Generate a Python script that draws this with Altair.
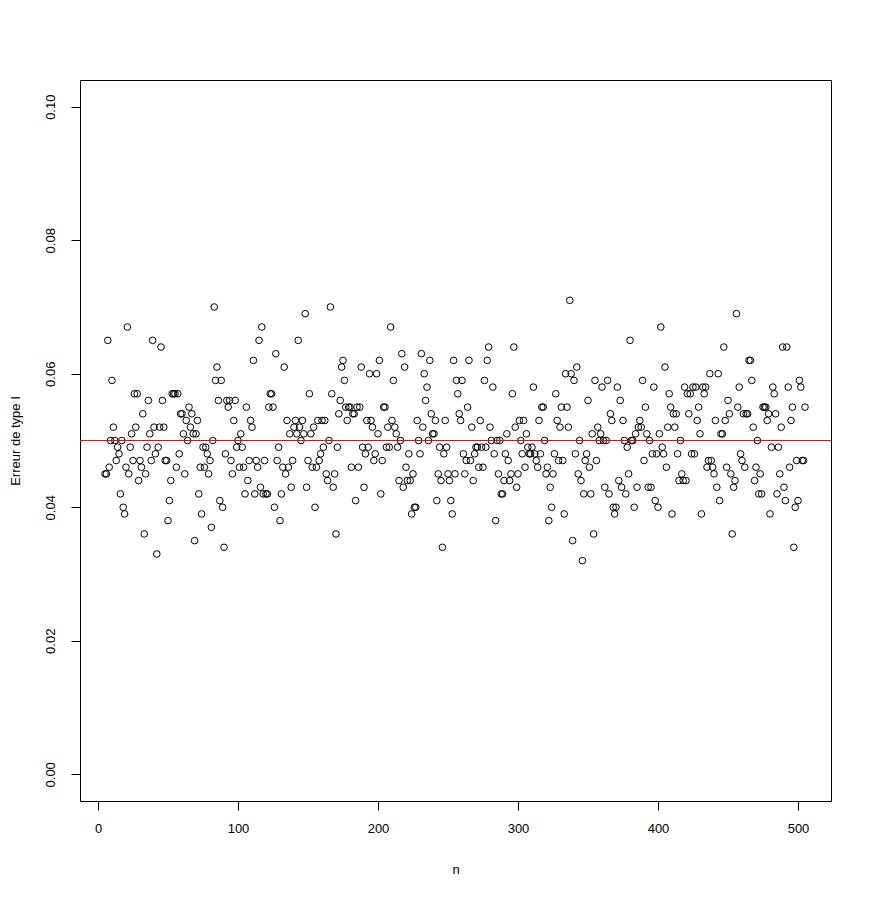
import altair as alt
import pandas as pd

# Simulated type I error, one value per n, n = 5 .. 505
n_start = 5
errors = [
    0.045, 0.045, 0.065, 0.046, 0.050, 0.059, 0.052, 0.050, 0.047, 0.049, 0.048, 0.042, 0.050, 0.040, 0.039, 0.046,
    0.067, 0.045, 0.049, 0.051, 0.047, 0.057, 0.052, 0.057, 0.044, 0.047, 0.046, 0.054, 0.036, 0.045, 0.049, 0.056,
    0.051, 0.047, 0.065, 0.052, 0.048, 0.033,
    0.049, 0.052, 0.064, 0.056, 0.052, 0.047, 0.047, 0.038, 0.041, 0.044, 0.057, 0.057, 0.057, 0.046, 0.057, 0.048,
    0.054, 0.054, 0.051, 0.045, 0.053, 0.050, 0.055, 0.052, 0.054, 0.051, 0.035, 0.051, 0.053, 0.042, 0.046, 0.039,
    0.049, 0.046, 0.049, 0.048, 0.045, 0.047, 0.037, 0.050, 0.070, 0.059, 0.061,
    0.056, 0.041, 0.059, 0.040, 0.034, 0.048, 0.056, 0.055, 0.056, 0.047, 0.045, 0.053, 0.056, 0.049, 0.050, 0.046,
    0.051, 0.049, 0.046, 0.042, 0.055, 0.044, 0.047, 0.053, 0.052, 0.062, 0.042, 0.047, 0.046, 0.065, 0.043, 0.067,
    0.042, 0.047, 0.042, 0.042, 0.055, 0.057, 0.057, 0.055,
    0.040, 0.063, 0.047, 0.049, 0.038, 0.042, 0.046, 0.061, 0.045, 0.053, 0.046, 0.051, 0.043, 0.047, 0.052, 0.053,
    0.051, 0.065, 0.052, 0.050, 0.053, 0.051, 0.069, 0.043, 0.047, 0.057, 0.051, 0.046, 0.052, 0.040, 0.046, 0.053,
    0.047, 0.048, 0.053, 0.049, 0.053, 0.045, 0.044, 0.050, 0.070, 0.057, 0.043,
    0.045, 0.036, 0.049, 0.054, 0.056, 0.061, 0.062, 0.059, 0.055, 0.053, 0.055, 0.055, 0.046, 0.054, 0.054, 0.041,
    0.055, 0.046, 0.055, 0.061, 0.049, 0.043, 0.048, 0.053, 0.049, 0.060, 0.053, 0.052, 0.047, 0.048, 0.060, 0.051,
    0.062, 0.042, 0.047, 0.055, 0.055, 0.049, 0.052,
    0.049, 0.067, 0.053, 0.059, 0.052, 0.051, 0.049, 0.044, 0.050, 0.063, 0.043, 0.061, 0.046, 0.044, 0.048, 0.044,
    0.039, 0.045, 0.040, 0.040, 0.053, 0.050, 0.048, 0.063, 0.052, 0.060, 0.056, 0.058, 0.050, 0.062, 0.054, 0.051,
    0.051, 0.053, 0.041, 0.045, 0.049, 0.044, 0.034, 0.048, 0.053, 0.049, 0.045, 0.044, 0.041,
    0.039, 0.062, 0.045, 0.059, 0.057, 0.054, 0.053, 0.059, 0.048, 0.045, 0.047, 0.055, 0.062, 0.047, 0.052, 0.044,
    0.048, 0.049, 0.049, 0.046, 0.053, 0.049, 0.046, 0.059, 0.049, 0.062, 0.064, 0.052, 0.050, 0.058, 0.048, 0.038,
    0.050, 0.045, 0.050, 0.042, 0.042, 0.044, 0.048, 0.051, 0.047,
    0.044, 0.045, 0.057, 0.064, 0.052, 0.043, 0.045, 0.053, 0.050, 0.048, 0.053, 0.046, 0.051, 0.049, 0.048, 0.048,
    0.049, 0.058, 0.048, 0.047, 0.046, 0.053, 0.048, 0.055, 0.055, 0.050, 0.045, 0.046, 0.038, 0.043, 0.040, 0.045,
    0.048, 0.057, 0.053, 0.047, 0.052, 0.055, 0.047, 0.039, 0.060,
    0.055, 0.052, 0.071, 0.060, 0.035, 0.059, 0.048, 0.061, 0.045, 0.050, 0.044, 0.032, 0.042, 0.047, 0.048, 0.056,
    0.046, 0.042, 0.051, 0.036, 0.059, 0.047, 0.052, 0.050, 0.051, 0.058, 0.050, 0.043, 0.050, 0.059, 0.042, 0.054,
    0.053, 0.040, 0.039, 0.040, 0.058, 0.044, 0.056, 0.043, 0.053, 0.050,
    0.042, 0.049, 0.045, 0.065, 0.050, 0.050, 0.040, 0.051, 0.043, 0.052, 0.053, 0.052, 0.059, 0.047, 0.055, 0.051,
    0.043, 0.050, 0.043, 0.048, 0.058, 0.041, 0.048, 0.040, 0.051, 0.067, 0.049, 0.048, 0.061, 0.046, 0.052, 0.057,
    0.055, 0.039, 0.054, 0.052, 0.054, 0.048, 0.044, 0.050, 0.045,
    0.044, 0.058, 0.044, 0.057, 0.054, 0.057, 0.048, 0.058, 0.048, 0.058, 0.053, 0.055, 0.051, 0.039, 0.058, 0.057,
    0.058, 0.046, 0.047, 0.060, 0.047, 0.046, 0.045, 0.053, 0.043, 0.060, 0.041, 0.051, 0.051, 0.064, 0.053, 0.046,
    0.056, 0.054, 0.045, 0.036, 0.043, 0.044, 0.069, 0.055, 0.058, 0.048,
    0.047, 0.054, 0.046, 0.054, 0.054, 0.062, 0.062, 0.059, 0.052, 0.044, 0.046, 0.050, 0.042, 0.045, 0.042, 0.055,
    0.055, 0.055, 0.053, 0.054, 0.039, 0.049, 0.058, 0.057, 0.054, 0.042, 0.049, 0.045, 0.052, 0.064, 0.043, 0.041,
    0.064, 0.058, 0.046, 0.053, 0.055, 0.034, 0.040, 0.047, 0.041, 0.059, 0.058, 0.047, 0.047, 0.055,
]
n_values = list(range(n_start, n_start + len(errors)))

reference_level = [0.05]
x_ticks = [0, 100, 200, 300, 400, 500]
y_ticks = [0.00, 0.02, 0.04, 0.06, 0.08, 0.10]

df = pd.DataFrame({"n": n_values, "err": errors})
ref = pd.DataFrame({"h": reference_level})

FONT = "Liberation Sans"
x_scale = alt.Scale(domain=[-12.86, 523.57], nice=False, zero=False)
y_scale = alt.Scale(domain=[-0.004, 0.104], nice=False, zero=False)

points = alt.Chart(df).mark_point(
    shape="circle", filled=False, color="black", size=44, strokeWidth=1, opacity=1
).encode(
    x=alt.X("n:Q", scale=x_scale,
            axis=alt.Axis(values=x_ticks, title="n", format="d",
                          tickSize=9, labelPadding=12, titlePadding=28)),
    y=alt.Y("err:Q", scale=y_scale,
            axis=alt.Axis(values=y_ticks, title="Erreur de type I", format=".2f",
                          labelAngle=270, labelAlign="center", labelBaseline="bottom",
                          tickSize=9, labelPadding=14, titlePadding=22)),
)

hline = alt.Chart(ref).mark_rule(color="#FF0000", strokeWidth=1).encode(
    y=alt.Y("h:Q", scale=y_scale)
)

chart = alt.layer(points, hline).properties(
    width=751,
    height=721,
    padding={"left": 72, "top": 72, "right": 33, "bottom": 83},
    autosize=alt.AutoSizeParams(type="none"),
    background="white",
).configure_view(
    stroke="black", strokeWidth=1, fill="white"
).configure_axis(
    grid=False, domain=False, tickColor="black", tickWidth=1,
    labelFont=FONT, labelFontSize=13, labelColor="black",
    titleFont=FONT, titleFontSize=13, titleColor="black", titleFontWeight="normal",
)

chart.save("out.html", embed_options={"renderer": "svg", "actions": False})
